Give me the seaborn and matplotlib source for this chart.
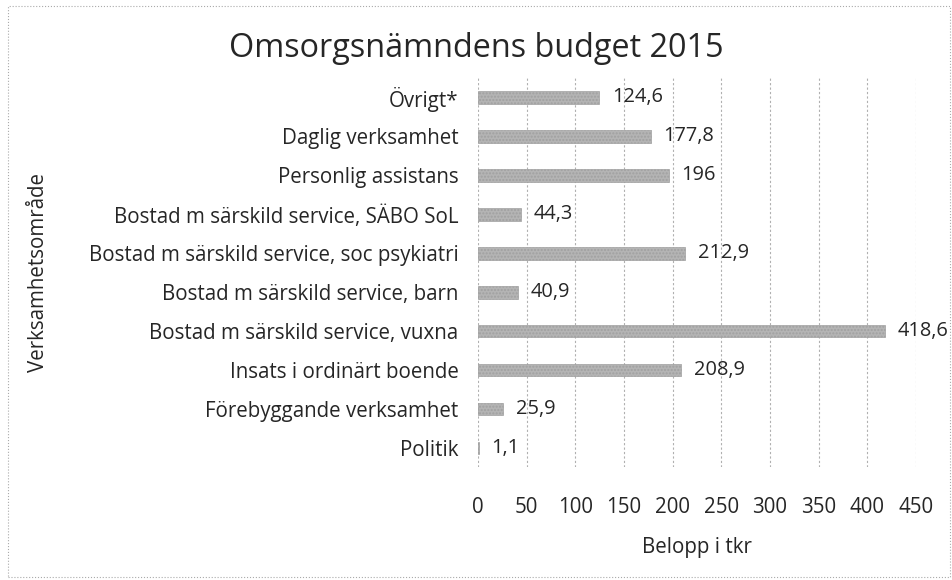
import matplotlib
matplotlib.use('Agg')
import matplotlib.pyplot as plt
import pandas as pd
import seaborn as sns
from matplotlib.patches import Rectangle

# Data
omraden = ['Övrigt*', 'Daglig verksamhet', 'Personlig assistans',
           'Bostad m särskild service, SÄBO SoL',
           'Bostad m särskild service, soc psykiatri',
           'Bostad m särskild service, barn',
           'Bostad m särskild service, vuxna',
           'Insats i ordinärt boende', 'Förebyggande verksamhet', 'Politik']
belopp = [124.6, 177.8, 196, 44.3, 212.9, 40.9, 418.6, 208.9, 25.9, 1.1]
xticks = list(range(0, 500, 50))

df = pd.DataFrame({'omrade': omraden, 'belopp': belopp})

sns.set_style('white')
plt.rcParams['font.family'] = ['Open Sans', 'DejaVu Sans']
plt.rcParams['hatch.color'] = '#9a9a9a'
textcol = '#262626'
fs = 14.8

fig = plt.figure(figsize=(9.52, 5.8), dpi=100)
ax = fig.add_axes([0.502, 0.194, 0.46, 0.672])

sns.barplot(data=df, x='belopp', y='omrade', order=omraden, orient='h',
            color='#b4b4b4', width=0.33, ax=ax, saturation=1,
            edgecolor='#a0a0a0', linewidth=0.5)
for p in ax.patches:
    p.set_hatch('.....')

# value labels with decimal comma
for i, v in enumerate(belopp):
    txt = ('%g' % v).replace('.', ',')
    ax.text(v + 13, i, txt, va='center', ha='left', fontsize=fs - 0.4, color=textcol)

ax.set_xlim(0, 450)
ax.set_xticks(xticks)
ax.set_xticklabels([str(t) for t in xticks], fontsize=fs, color=textcol)
ax.tick_params(axis='y', labelsize=fs, labelcolor=textcol, length=0, pad=14)
ax.tick_params(axis='x', length=0, pad=21)
ax.grid(axis='x', color='#b0b0b0', linestyle=(0, (2, 2)), linewidth=0.8)
ax.set_axisbelow(True)
for s in ax.spines.values():
    s.set_visible(False)

ax.set_xlabel('Belopp i tkr', fontsize=fs, color=textcol, labelpad=14)
ax.set_ylabel('Verksamhetsområde', fontsize=fs, color=textcol)
ax.yaxis.set_label_coords(-0.98, 0.5)
fig.text(0.5, 0.917, 'Omsorgsnämndens budget 2015', ha='center', va='center',
         fontsize=23.3, color=textcol)

# dotted chart border
fig.patches.append(Rectangle((0.008, 0.005), 0.99, 0.985, transform=fig.transFigure,
                             fill=False, edgecolor='#aaaaaa', linestyle=':', linewidth=0.8))

fig.savefig('out.png', dpi=100)
